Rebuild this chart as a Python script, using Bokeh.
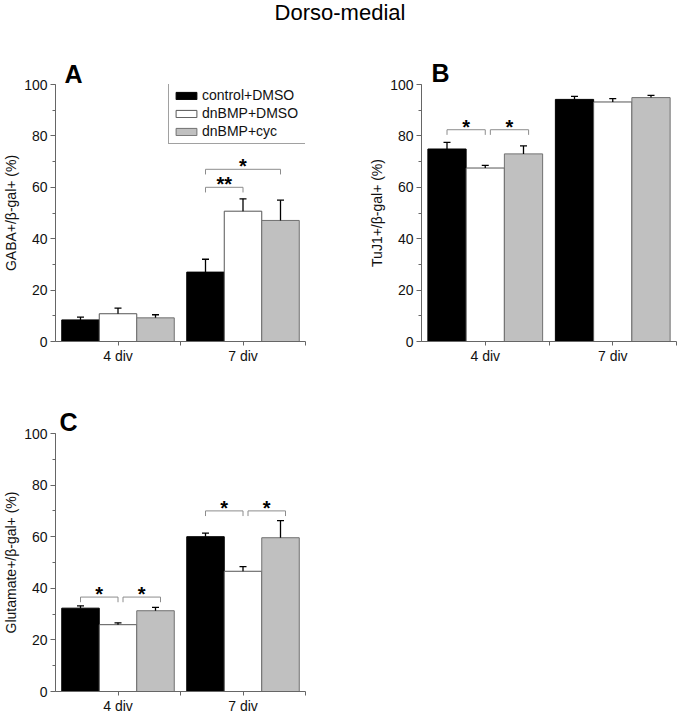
import numpy as np
from bokeh.plotting import figure
from bokeh.models import (Range1d, FixedTicker, SingleIntervalTicker, ColumnDataSource,
                          Legend, LegendItem, Label, Whisker, TeeHead, Title)
from bokeh.layouts import column, row
from bokeh.embed import file_html
from bokeh.resources import INLINE
from bokeh.core.properties import value

# ---------------- data ----------------
categories = ["4 div", "7 div"]
series = ["control+DMSO", "dnBMP+DMSO", "dnBMP+cyc"]

gaba_control = [8.4, 27.0]
gaba_control_err = [1.1, 5.0]
gaba_dnbmp = [10.8, 50.7]
gaba_dnbmp_err = [2.2, 4.8]
gaba_cyc = [9.2, 47.1]
gaba_cyc_err = [1.2, 7.9]

tuj1_control = [74.9, 94.2]
tuj1_control_err = [2.6, 1.2]
tuj1_dnbmp = [67.5, 93.2]
tuj1_dnbmp_err = [1.0, 1.3]
tuj1_cyc = [73.0, 94.9]
tuj1_cyc_err = [3.1, 0.9]

glu_control = [32.3, 60.0]
glu_control_err = [0.9, 1.4]
glu_dnbmp = [25.9, 46.6]
glu_dnbmp_err = [0.7, 1.8]
glu_cyc = [31.3, 59.6]
glu_cyc_err = [1.3, 6.6]

# significance: (category, from-series index, to-series index, level, label)
gaba_sig = [("7 div", 0, 1, 60, "**"), ("7 div", 0, 2, 67, "*")]
tuj1_sig = [("4 div", 0, 1, 82.4, "*"), ("4 div", 1, 2, 82.4, "*")]
glu_sig = [("4 div", 0, 1, 36.6, "*"), ("4 div", 1, 2, 36.6, "*"),
           ("7 div", 0, 1, 70, "*"), ("7 div", 1, 2, 70, "*")]

y_ticks_major = 20

# ---------------- style ----------------
FONT = "Liberation Sans"
fills = ["black", "white", "#c0c0c0"]
lines = ["black", "#555555", "#707070"]
AX = "#666666"
BAR_W = 0.3
offsets = [-BAR_W, 0.0, BAR_W]
centers = np.arange(len(categories)) + 0.5
bounds = np.arange(1, len(categories) + 1).astype(float)


def make_panel(vals, errs, sig, ylabel, letter, letter_pos, width, height, borders, legend=False):
    left, right, top, bottom = borders
    p = figure(width=width, height=height, x_range=Range1d(0, len(categories)),
               y_range=Range1d(0, 100), toolbar_location=None, output_backend="svg",
               min_border_left=left, min_border_right=right, min_border_top=top,
               min_border_bottom=bottom, outline_line_color=None, background_fill_color="white",
               border_fill_color="white")
    p.xgrid.visible = False
    p.ygrid.visible = False

    # panel letter as title
    p.title = Title(text=letter, align="left", offset=letter_pos[0], standoff=letter_pos[1],
                    text_font=FONT, text_font_size="25px", text_font_style="bold",
                    text_color="black")

    renderers = []
    for i, (v, e) in enumerate(zip(vals, errs)):
        v = np.array(v, dtype=float)
        e = np.array(e, dtype=float)
        src = ColumnDataSource(dict(x=centers + offsets[i], top=v, upper=v + e))
        r = p.vbar(x="x", top="top", bottom=0, width=BAR_W, source=src,
                   fill_color=fills[i], line_color=lines[i], line_width=1)
        renderers.append(r)
        w = Whisker(source=src, base="x", lower="top", upper="upper", dimension="height",
                    line_color="black", line_width=1.3, lower_head=None,
                    upper_head=TeeHead(size=7, line_color="black", line_width=1.3),
                    level="overlay")
        p.add_layout(w)

    # significance brackets
    xs, ys, sx, sy, st = [], [], [], [], []
    for cat, a, b, lvl, lab in sig:
        c = centers[categories.index(cat)]
        shift = 0.04 if a > 0 else 0.0
        x0 = c + offsets[a] + shift
        x1 = c + offsets[b] + shift
        xs.append([x0, x0, x1, x1])
        ys.append([lvl - 2, lvl, lvl, lvl - 2])
        sx.append((x0 + x1) / 2)
        sy.append(lvl + 1.2)
        st.append(lab)
    p.multi_line(xs=xs, ys=ys, line_color="#8c8c8c", line_width=1)
    p.text(x=sx, y=sy, text=st, text_font=value(FONT), text_font_style="bold",
           text_font_size="20px", text_align="center", text_baseline="alphabetic",
           text_color="black")

    # axes
    xa = p.xaxis[0]
    xa.ticker = FixedTicker(ticks=list(centers), minor_ticks=list(bounds))
    xa.major_label_overrides = {float(c): n for c, n in zip(centers, categories)}
    ya = p.yaxis[0]
    ya.ticker = SingleIntervalTicker(interval=y_ticks_major, num_minor_ticks=2)
    ya.axis_label = ylabel
    for ax in (xa, ya):
        ax.axis_line_color = AX
        ax.major_tick_line_color = AX
        ax.minor_tick_line_color = AX
        ax.major_tick_in = 0
        ax.minor_tick_in = 0
        ax.major_label_text_font = FONT
        ax.major_label_text_font_size = "14px"
        ax.major_label_text_color = "#111111"
        ax.axis_label_text_font = FONT
        ax.axis_label_text_font_size = "14px"
        ax.axis_label_text_font_style = "normal"
        ax.axis_label_text_color = "#111111"
    xa.major_tick_out = 4
    xa.minor_tick_out = 4
    xa.major_label_standoff = 2
    ya.major_tick_out = 5
    ya.minor_tick_out = 3
    ya.major_label_standoff = 3
    ya.axis_label_standoff = 2

    if legend:
        items = [LegendItem(label=s, renderers=[r]) for s, r in zip(series, renderers)]
        lg = Legend(items=items, location=(113, 197), orientation="vertical",
                    label_text_font=FONT, label_text_font_size="14px", label_text_color="#111111",
                    glyph_width=26, glyph_height=9, label_height=15, label_width=104,
                    label_standoff=3, padding=4, spacing=2, margin=0,
                    border_line_color="#444444", border_line_width=1,
                    background_fill_color="white", background_fill_alpha=1.0)
        p.add_layout(lg, "center")
    return p


title_fig = figure(width=679, height=36, x_range=Range1d(0, 1), y_range=Range1d(0, 36),
                   toolbar_location=None, output_backend="svg", min_border=0,
                   outline_line_color=None, x_axis_location=None, y_axis_location=None)
title_fig.xgrid.visible = False
title_fig.ygrid.visible = False
title_fig.add_layout(Label(x=0.5, y=24, text="Dorso-medial", text_font=FONT,
                           text_font_size="22px", text_align="center",
                           text_baseline="alphabetic", text_color="black"))

pA = make_panel([gaba_control, gaba_dnbmp, gaba_cyc],
                [gaba_control_err, gaba_dnbmp_err, gaba_cyc_err],
                gaba_sig, "GABA+/β-gal+ (%)", "A", (9, -7),
                360, 362, (50, 55, 48, 57), legend=True)
pB = make_panel([tuj1_control, tuj1_dnbmp, tuj1_cyc],
                [tuj1_control_err, tuj1_dnbmp_err, tuj1_cyc_err],
                tuj1_sig, "TuJ1+/β-gal+ (%)", "B", (10, -5),
                319, 362, (61, 3, 48, 57))
pC = make_panel([glu_control, glu_dnbmp, glu_cyc],
                [glu_control_err, glu_dnbmp_err, glu_cyc_err],
                glu_sig, "Glutamate+/β-gal+ (%)", "C", (4, -5),
                360, 318, (50, 55, 35, 22))

layout = column(title_fig, row(pA, pB), row(pC))
open("out.html", "w").write(file_html(layout, INLINE))
